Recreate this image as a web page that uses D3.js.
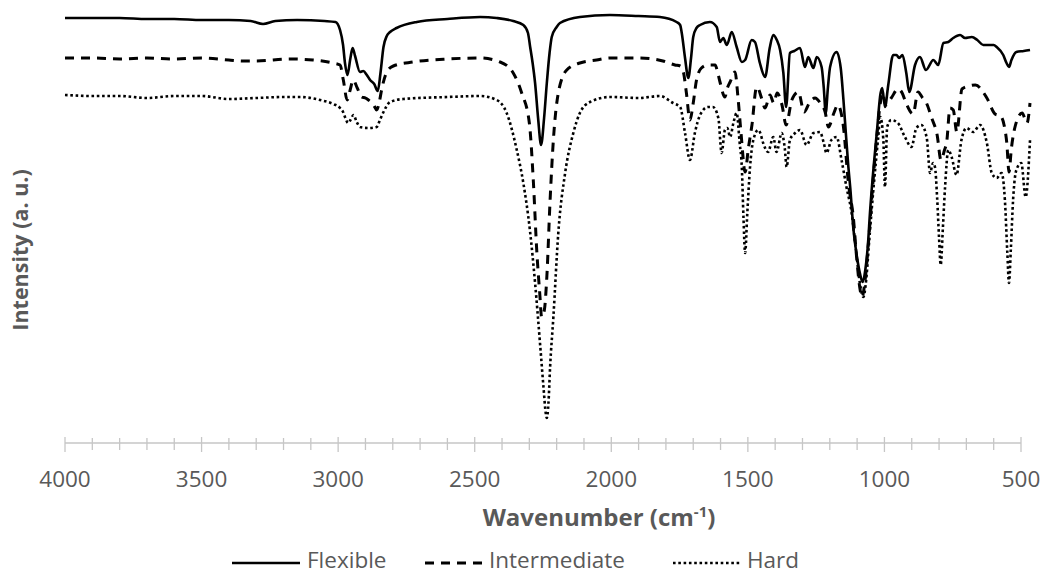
<!DOCTYPE html>
<html>
<head>
<meta charset="utf-8">
<script src="https://cdn.jsdelivr.net/npm/d3@7"></script>
<style>
  body { margin: 0; background: #fff; }
  text { font-family: "Open Sans", "Noto Sans", sans-serif; }
</style>
</head>
<body>
<svg id="chart" width="1049" height="575"></svg>
<script>
// ---------- DATA (wavenumber in cm-1, intensity in arbitrary units) ----------
const seriesNames = ["Flexible", "Intermediate", "Hard"];

const flexWn = [4000,3900,3800,3700,3600,3500,3400,3320,3275,3230,3150,3050,3010,2993,2982,2975,2966,2955,2947,2938,2920,2908,2895,2883,2868,2855,2845,2834,2822,2810,2786,2712,2600,2480,2420,2359,2322,2305,2297,2288,2279,2268,2257,2246,2236,2226,2218,2200,2188,2115,2005,1900,1822,1761,1748,1742,1730,1718,1708,1700,1688,1675,1639,1614,1602,1590,1577,1559,1541,1522,1510,1486,1474,1456,1437,1420,1407,1394,1382,1370,1360,1346,1330,1309,1291,1279,1260,1248,1230,1222,1215,1207,1199,1175,1160,1150,1140,1132,1125,1114,1100,1090,1080,1070,1060,1053,1040,1028,1014,1008,998,986,968,956,946,934,920,909,888,870,848,821,803,784,766,748,723,705,680,660,638,600,589,565,553,544,535,517,490,467];
const flexI = [42.0,42.0,42.0,41.9,41.9,41.8,41.8,41.7,41.4,41.7,41.8,41.7,41.6,40.8,39.3,37.5,36.3,38.0,39.0,38.2,36.6,36.7,36.3,35.8,35.4,34.7,36.5,39.1,40.2,40.6,41.0,41.6,41.9,42.1,42.0,41.7,41.3,40.5,39.1,37.5,35.5,32.0,29.3,32.0,35.5,38.5,40.1,41.1,41.5,42.1,42.3,42.2,42.1,41.6,41.3,40.5,38.0,36.0,38.0,40.1,41.0,41.3,41.6,41.1,39.6,40.0,39.3,40.6,39.1,37.6,37.8,39.8,39.6,37.5,36.1,39.0,40.3,39.8,38.8,36.5,33.1,38.5,38.7,39.0,37.1,38.1,37.0,38.1,37.1,35.0,32.5,35.0,37.1,38.6,37.0,33.8,30.0,27.1,25.0,21.0,18.0,16.5,15.6,16.8,19.5,22.5,27.0,30.5,34.5,35.0,33.1,35.3,38.3,38.3,38.0,38.3,36.5,34.6,37.3,38.1,36.8,37.8,37.3,39.5,39.6,40.0,40.3,40.0,40.1,39.8,39.3,39.3,39.1,38.3,37.5,37.1,37.8,38.6,38.7,38.8];

const interWn = [4000,3900,3800,3700,3600,3500,3400,3350,3300,3176,3092,3018,2993,2981,2967,2956,2945,2930,2914,2900,2889,2870,2859,2850,2841,2822,2798,2726,2600,2480,2407,2359,2328,2300,2285,2273,2262,2255,2245,2236,2224,2212,2194,2163,2115,2054,2005,1900,1811,1790,1767,1748,1736,1725,1712,1700,1688,1670,1646,1620,1610,1602,1584,1575,1565,1547,1536,1525,1510,1498,1485,1468,1463,1450,1437,1419,1405,1393,1375,1360,1339,1315,1294,1275,1254,1235,1217,1205,1185,1171,1150,1132,1114,1100,1090,1082,1072,1060,1045,1030,1015,1008,994,975,950,935,921,895,877,860,848,827,807,793,780,772,760,748,735,716,690,667,625,595,575,562,552,544,535,522,496,478,467];
const interI = [38.0,38.0,37.9,38.0,37.9,38.0,37.8,37.7,37.7,37.9,37.8,37.5,37.3,35.8,33.8,34.8,35.8,35.0,34.1,34.0,33.8,33.3,32.8,33.5,34.8,36.6,37.2,37.6,37.9,38.0,37.6,36.5,34.5,31.5,25.5,18.8,14.5,12.1,12.8,16.1,23.8,29.8,34.5,36.8,37.5,37.8,38.0,38.0,37.7,37.5,37.3,37.2,36.6,34.5,31.8,33.5,35.8,37.0,37.3,37.3,36.5,35.6,34.1,35.0,35.6,36.6,34.0,30.5,26.6,29.0,31.3,35.1,35.0,34.0,33.0,34.3,33.5,34.5,33.3,31.3,33.8,34.6,32.6,33.5,34.0,33.5,32.6,31.1,32.5,33.3,31.1,25.5,22.1,17.5,15.0,14.1,15.5,19.0,24.5,29.5,33.5,34.5,33.3,34.0,34.9,34.5,33.5,32.4,34.6,34.0,33.6,32.0,30.3,27.8,28.8,29.6,33.0,32.8,30.6,34.9,35.2,35.3,34.0,32.4,32.2,31.3,29.5,26.6,29.0,31.1,32.5,31.5,33.5];

const hardWn = [4000,3900,3800,3700,3600,3500,3400,3300,3200,3140,3066,3018,2993,2982,2975,2963,2955,2944,2932,2920,2889,2859,2847,2834,2810,2762,2600,2480,2420,2383,2346,2322,2298,2279,2261,2248,2240,2236,2230,2224,2212,2194,2169,2139,2115,2078,2005,1900,1822,1774,1748,1730,1712,1694,1675,1646,1628,1608,1596,1584,1575,1565,1553,1541,1530,1522,1516,1510,1502,1492,1480,1462,1456,1444,1426,1407,1395,1376,1365,1358,1346,1327,1309,1285,1260,1236,1222,1212,1194,1175,1157,1139,1120,1105,1090,1077,1068,1055,1040,1030,1023,1015,1004,998,990,975,951,925,901,883,865,845,833,822,815,807,800,794,786,778,766,754,736,718,699,675,650,625,607,589,571,559,550,544,537,529,517,499,483,467];
const hardI = [34.3,34.2,34.2,34.0,34.2,34.2,33.9,34.0,34.1,34.1,33.8,33.4,33.0,32.6,32.1,31.5,31.8,32.3,31.6,31.1,31.0,31.1,31.8,32.6,33.6,33.9,34.1,34.2,33.8,32.5,28.8,25.5,20.8,15.5,9.5,5.0,2.5,2.0,3.5,7.1,12.1,20.5,26.5,30.5,32.5,33.6,34.1,34.0,34.2,33.5,33.1,30.5,27.8,30.5,32.3,33.1,33.1,32.0,28.5,30.8,31.0,30.1,31.5,32.5,29.5,27.0,22.0,18.5,22.5,27.1,29.8,30.8,30.6,29.5,28.6,30.1,28.6,30.5,29.0,27.1,29.8,30.5,30.8,29.3,30.5,30.6,29.5,28.5,29.8,30.1,27.8,25.1,22.5,19.0,15.5,14.1,15.5,20.0,25.0,28.0,30.0,32.1,29.8,25.1,31.1,31.8,31.5,30.1,29.1,31.0,31.3,30.0,26.5,27.5,27.1,24.0,20.0,17.3,21.0,25.1,28.8,28.1,26.3,29.8,31.0,30.6,31.3,29.5,26.5,26.0,26.5,23.8,18.5,15.5,19.0,23.8,26.8,27.5,24.1,29.8];

const xTickLabels = [4000, 3500, 3000, 2500, 2000, 1500, 1000, 500];
const xMinorTicks = d3.range(4000, 499, -100);

// ---------- CHART ----------
const svg = d3.select("#chart");
svg.append("rect").attr("width", 1049).attr("height", 575).attr("fill", "#fff");

const x = d3.scaleLinear().domain([4000, 500]).range([65, 1021]);
const y = d3.scaleLinear().domain([-0.5, 42]).range([443, 18]);

const styles = [
  { width: 2.6, dash: null },
  { width: 3, dash: "9,7" },
  { width: 2.6, dash: "2.6,2.7" }
];

const data = [
  flexWn.map((w, i) => ({ w, v: flexI[i] })),
  interWn.map((w, i) => ({ w, v: interI[i] })),
  hardWn.map((w, i) => ({ w, v: hardI[i] }))
];

// axis
const axisG = svg.append("g").attr("transform", "translate(0,443)");
axisG.append("line").attr("x1", x(4000)).attr("x2", x(500))
  .attr("stroke", "#c6c6c6").attr("stroke-width", 1.5);
axisG.selectAll("line.minor").data(xMinorTicks).enter().append("line")
  .attr("class", "minor")
  .attr("x1", d => x(d)).attr("x2", d => x(d))
  .attr("y1", d => d % 500 === 0 ? -6 : -5)
  .attr("y2", d => d % 500 === 0 ? 9 : 7)
  .attr("stroke", "#c6c6c6").attr("stroke-width", 1.3);
axisG.selectAll("text").data(xTickLabels).enter().append("text")
  .attr("x", d => x(d)).attr("y", 44)
  .attr("text-anchor", "middle")
  .attr("font-size", 22.5).attr("fill", "#595959")
  .text(d => d);

// lines
const line = d3.line().x(d => x(d.w)).y(d => y(d.v)).curve(d3.curveMonotoneX);
data.forEach((s, i) => {
  svg.append("path").datum(s)
    .attr("d", line)
    .attr("fill", "none")
    .attr("stroke", "#000")
    .attr("stroke-width", styles[i].width)
    .attr("stroke-linejoin", "round")
    .attr("stroke-dasharray", styles[i].dash);
});

// axis titles
const xt = svg.append("text").attr("x", 599).attr("y", 526)
  .attr("text-anchor", "middle").attr("font-size", 24).attr("font-weight", "bold")
  .attr("fill", "#595959");
xt.append("tspan").text("Wavenumber (cm");
xt.append("tspan").attr("font-size", 15).attr("dy", -9).text("-1");
xt.append("tspan").attr("dy", 9).text(")");

svg.append("text")
  .attr("transform", "translate(28,250) rotate(-90)")
  .attr("text-anchor", "middle").attr("font-size", 21.5).attr("font-weight", "bold")
  .attr("fill", "#595959")
  .text("Intensity (a. u.)");

// legend
const legendX = [232, 425, 673];
const legendLen = [68, 57, 67];
seriesNames.forEach((name, i) => {
  const g = svg.append("g");
  g.append("line")
    .attr("x1", legendX[i]).attr("x2", legendX[i] + legendLen[i])
    .attr("y1", 563).attr("y2", 563)
    .attr("stroke", "#000").attr("stroke-width", styles[i].width)
    .attr("stroke-dasharray", styles[i].dash);
  g.append("text")
    .attr("x", legendX[i] + legendLen[i] + 7).attr("y", 568)
    .attr("font-size", 22.5).attr("fill", "#595959")
    .text(name);
});
</script>
</body>
</html>
